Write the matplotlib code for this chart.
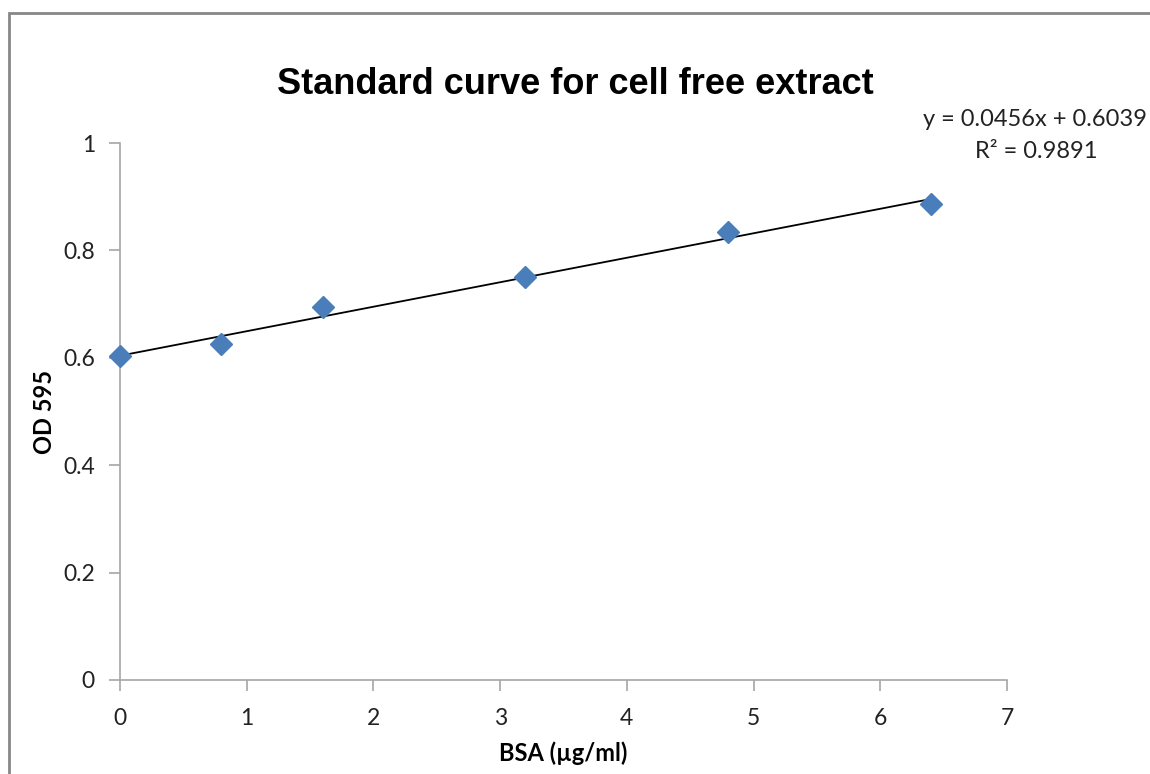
import matplotlib.pyplot as plt
from matplotlib.patches import Rectangle

# BSA standard curve data
bsa = [0, 0.8, 1.6, 3.2, 4.8, 6.4]
od595 = [0.604, 0.626, 0.694, 0.750, 0.834, 0.887]
slope = 0.0456
intercept = 0.6039
r_squared = 0.9891
x_ticks = [0, 1, 2, 3, 4, 5, 6, 7]
y_ticks = [0, 0.2, 0.4, 0.6, 0.8, 1]


def main():
    fig = plt.figure(figsize=(11.5, 7.74), dpi=100)
    ax = fig.add_axes([120 / 1150, 1 - 680 / 774, 887 / 1150, 537 / 774])

    # outer chart frame (only left/top edges visible in the original)
    fig.patches.append(Rectangle((9 / 1150, -0.1), 1.2, (774 - 13) / 774 + 0.1,
                                 transform=fig.transFigure, fill=False,
                                 edgecolor='#878787', linewidth=2))

    ax.plot(bsa, od595, linestyle='none', marker='D', markersize=11.5,
            color='#4a7ebb', markeredgecolor='#4a7ebb', zorder=3, clip_on=False)
    xs = [bsa[0], bsa[-1]]
    ax.plot(xs, [slope * x + intercept for x in xs], color='black', linewidth=1.3, zorder=2)

    ax.set_xlim(0, 7)
    ax.set_ylim(0, 1)
    ax.set_xticks(x_ticks)
    ax.set_yticks(y_ticks)
    ax.set_xticklabels([str(t) for t in x_ticks])
    ax.set_yticklabels(['0', '0.2', '0.4', '0.6', '0.8', '1'])

    for s in ['top', 'right']:
        ax.spines[s].set_visible(False)
    for s in ['left', 'bottom']:
        ax.spines[s].set_color('#a6a6a6')
        ax.spines[s].set_linewidth(1.2)
    ax.tick_params(direction='out', length=8, width=1.2, color='#a6a6a6',
                   labelsize=16.5, labelcolor='#222222')
    ax.tick_params(axis='x', pad=12)
    ax.tick_params(axis='y', pad=10)
    for lab in ax.get_xticklabels() + ax.get_yticklabels():
        lab.set_family('Lato')

    ax.set_xlabel('BSA (µg/ml)', fontsize=17, fontweight='bold', family='Lato', labelpad=9)
    ax.set_ylabel('OD 595', fontsize=17, fontweight='bold', family='Lato', labelpad=5)

    fig.text(575 / 1150, 1 - 84 / 774, 'Standard curve for cell free extract',
             ha='center', va='center', fontsize=26, fontweight='bold',
             family='Liberation Sans')
    fig.text(1035 / 1150, 1 - 119 / 774, f'y = {slope}x + {intercept}',
             ha='center', va='center', fontsize=17, family='Lato', color='#222222')
    fig.text(1036 / 1150, 1 - 152 / 774, f'R² = {r_squared}',
             ha='center', va='center', fontsize=17, family='Lato', color='#222222')

    fig.savefig('out.png', dpi=100)


if __name__ == "__main__":
    main()
